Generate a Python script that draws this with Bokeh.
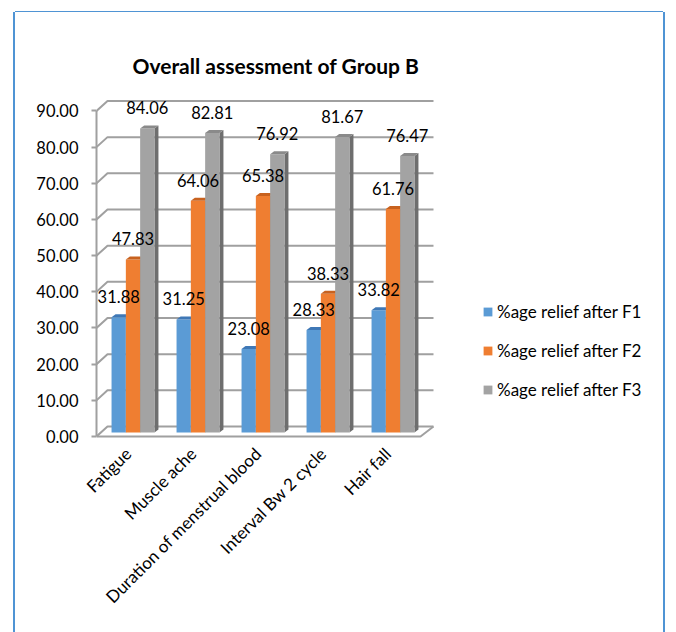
import math
from bokeh.plotting import figure
from bokeh.models import (ColumnDataSource, FixedTicker, PrintfTickFormatter,
                          CustomJSTickFormatter, Legend, LegendItem, Range1d)
from bokeh.core.properties import value
from bokeh.embed import file_html
from bokeh.resources import INLINE

# ---------------- data ----------------
categories = ["Fatigue", "Muscle ache", "Duration of menstrual blood",
              "Interval Bw 2 cycle", "Hair fall"]
series_names = ["%age relief after F1", "%age relief after F2", "%age relief after F3"]
f1 = [31.88, 31.25, 23.08, 28.33, 33.82]
f2 = [47.83, 64.06, 65.38, 38.33, 61.76]
f3 = [84.06, 82.81, 76.92, 81.67, 76.47]
y_ticks = [0, 10, 20, 30, 40, 50, 60, 70, 80, 90]
title_text = "Overall assessment of Group B"

# ---------------- styling / geometry ----------------
FONT = "Lato"
front_colors = ["#5B9BD5", "#EF7E31", "#A3A3A3"]
cap_colors = ["#3F78B6", "#C8621F", "#8A8A8A"]
side_colors = ["#35689F", "#B0561B", "#6E6E6E"]
grid_color = "#A0A0A0"

PX_X = 65.0        # pixels per category unit
PX_Y = 3.617       # pixels per value unit
X0, X1 = -0.5615, 8.1154
Y0, Y1 = -1.659, 96.21


def dxu(px):
    return px / PX_X


def dyu(px):
    return px / PX_Y


bar_w = dxu(14.3)
offsets = [-bar_w, 0.0, bar_w]
base = dyu(4)
depth_x, depth_y = dxu(4), dyu(3)
wall_dx, wall_dy = dxu(11), dyu(10)
back_end = 4.623
label_shift = dxu(-5)   # category labels sit slightly left of the group centre

p = figure(width=648, height=620, output_backend="svg", toolbar_location=None,
           x_range=Range1d(X0, X1), y_range=Range1d(Y0, Y1),
           min_border_left=81, min_border_right=3, min_border_top=76,
           min_border_bottom=190)
p.margin = (12, 0, 0, 15)
p.styles = {"box-shadow": "-2px 0 0 0 #4F94D4, 2px 0 0 0 #4F94D4, 0 -1px 0 0 #4F94D4"}
p.outline_line_color = None
p.xgrid.visible = False
p.ygrid.visible = False
p.background_fill_color = "white"
p.border_fill_color = "white"

# title
p.title.text = title_text
p.title.text_font = FONT
p.title.text_font_size = "21px"
p.title.text_font_style = "bold"
p.title.text_color = "#000000"
p.title.align = "left"
p.title.padding = 6
p.title.offset = 30

# ---------------- back wall gridlines and floor ----------------
gx = [[X0, X0 + wall_dx, back_end] for v in y_ticks]
gy = [[v, v + wall_dy, v + wall_dy] for v in y_ticks]
p.multi_line(gx, gy, line_color=grid_color, line_width=2)
p.line([X0, back_end - dxu(13), back_end], [0, 0, wall_dy],
       line_color=grid_color, line_width=2)

# ---------------- bars ----------------
renderers = []
label_sources = []
for s, vals in enumerate([f1, f2, f3]):
    xs_c = [i + offsets[s] for i in range(len(categories))]
    tops = [v + base for v in vals]
    sx, sy, cx, cy = [], [], [], []
    for xc, t in zip(xs_c, tops):
        xl, xr = xc - bar_w / 2, xc + bar_w / 2
        sx.append([xr, xr + depth_x, xr + depth_x, xr])
        sy.append([base, base + depth_y, t + depth_y, t])
        cx.append([xl, xl + depth_x, xr + depth_x, xr])
        cy.append([t, t + depth_y, t + depth_y, t])
    p.patches(sx, sy, fill_color=side_colors[s], line_color=None)
    src = ColumnDataSource(dict(x=xs_c, top=tops))
    r = p.vbar(x="x", top="top", bottom=base, width=bar_w, source=src,
               fill_color=front_colors[s], line_color=None)
    renderers.append(r)
    p.patches(cx, cy, fill_color=cap_colors[s], line_color=None)
    label_sources.append(ColumnDataSource(dict(
        x=xs_c, y=[v + dyu(24.5) for v in vals], t=["%.2f" % v for v in vals])))

# data labels drawn on top of all bars
for lsrc in label_sources:
    p.text(x="x", y="y", text="t", source=lsrc, text_align="center",
           text_baseline="middle", text_font=value(FONT),
           text_font_size="16.5px", text_color="#000000")

# ---------------- axes ----------------
ya = p.yaxis[0]
ya.ticker = FixedTicker(ticks=y_ticks)
ya.formatter = PrintfTickFormatter(format="%.2f")
ya.bounds = (0, 90)
ya.axis_line_color = grid_color
ya.axis_line_width = 2
ya.major_tick_out = 5
ya.major_tick_in = 0
ya.major_tick_line_color = grid_color
ya.major_tick_line_width = 2
ya.minor_tick_line_color = None
ya.major_label_standoff = 13
ya.major_label_text_font = FONT
ya.major_label_text_font_size = "16.5px"
ya.major_label_text_color = "#000000"

xa = p.xaxis[0]
xa.ticker = FixedTicker(ticks=[i + label_shift for i in range(len(categories))])
xa.formatter = CustomJSTickFormatter(args=dict(cats=categories),
                                     code="return cats[Math.round(tick)];")
xa.major_label_orientation = math.pi / 4
xa.axis_line_color = None
xa.major_tick_line_color = None
xa.minor_tick_line_color = None
xa.major_tick_out = 0
xa.major_label_standoff = 8
xa.major_label_text_font = FONT
xa.major_label_text_font_size = "17px"
xa.major_label_text_color = "#000000"

# ---------------- legend ----------------
legend = Legend(items=[LegendItem(label=n, renderers=[r])
                       for n, r in zip(series_names, renderers)],
                location=(386, 42), orientation="vertical",
                glyph_width=11, glyph_height=11, label_standoff=4,
                spacing=18, padding=0, margin=0,
                border_line_color=None, background_fill_alpha=0,
                label_text_font=FONT, label_text_font_size="17px",
                label_text_color="#000000")
p.add_layout(legend)

open("out.html", "w").write(file_html(p, INLINE, title=title_text))
